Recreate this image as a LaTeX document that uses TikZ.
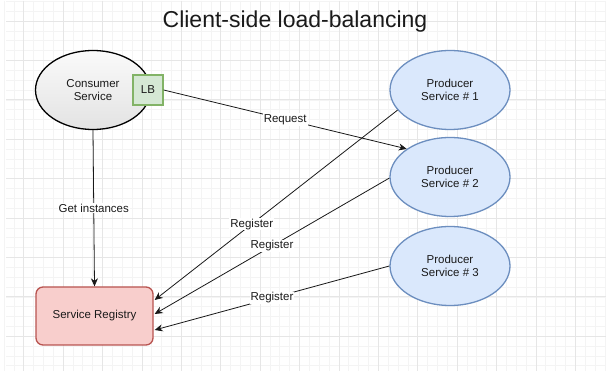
\documentclass[tikz,border=0pt]{standalone}
\usepackage{fontspec}
\setmainfont{Liberation Sans}
\usetikzlibrary{arrows.meta,shapes.geometric,calc}
\definecolor{bluefill}{HTML}{DAE8FC}
\definecolor{bluedraw}{HTML}{6C8EBF}
\definecolor{greenfill}{HTML}{D5E8D4}
\definecolor{greendraw}{HTML}{82B366}
\definecolor{redfill}{HTML}{F8CECC}
\definecolor{reddraw}{HTML}{B85450}
\definecolor{gridminor}{HTML}{F4F4F4}
\definecolor{gridmajor}{HTML}{E6E6E6}
\definecolor{txt}{HTML}{1A1A1A}
\tikzset{
  lbl/.style={font=\fontsize{11.5}{13.3}\selectfont, text=txt, align=center},
  producer/.style={ellipse, draw=bluedraw, fill=bluefill, line width=1.3pt,
    minimum width=120pt, minimum height=79pt, inner sep=1pt, lbl},
  consumer/.style={ellipse, draw=black, line width=1.3pt, top color=black!2,
    bottom color=black!11, minimum width=115pt, minimum height=79pt, inner sep=1pt, lbl},
  lbbox/.style={rectangle, draw=greendraw, fill=greenfill, line width=1.3pt,
    minimum width=30pt, minimum height=30pt, inner sep=0pt, lbl},
  registry/.style={rectangle, rounded corners=7pt, draw=reddraw, fill=redfill,
    line width=1.3pt, minimum width=117pt, minimum height=58pt, lbl},
  conn/.style={draw=black!90, line width=0.8pt, -{Stealth[length=8pt,width=7pt,inset=2.5pt]}},
  edgelbl/.style={fill=white, inner sep=1pt, lbl},
  titletext/.style={font=\fontsize{23}{26}\selectfont, text=txt}
}
\begin{document}
\begin{tikzpicture}[x=1pt,y=-1pt]
\useasboundingbox[fill=white] (0,0) rectangle (606,371);
% grid
\foreach \i in {0,...,61} {\draw[gridminor, line width=0.5pt] ({3.9+\i*9.85},1) -- ({3.9+\i*9.85},371);}
\foreach \j in {0,...,37} {\draw[gridminor, line width=0.5pt] (6,{1.3+\j*9.85}) -- (606,{1.3+\j*9.85});}
\foreach \i in {0,...,15} {\draw[gridmajor, line width=0.6pt] ({23.6+\i*39.4},1) -- ({23.6+\i*39.4},371);}
\foreach \j in {0,...,9} {\draw[gridmajor, line width=0.6pt] (6,{21+\j*39.4}) -- (606,{21+\j*39.4});}

\node[titletext] (title) at (295,22) {Client-side load-balancing};

\node[consumer] (cons) at (93,90) {Consumer\\Service};
\node[lbbox] (lb) at (148,90) {LB};
\node[producer] (p1) at (450,90) {Producer\\Service \# 1};
\node[producer] (p2) at (450,177) {Producer\\Service \# 2};
\node[producer] (p3) at (450,266) {Producer\\Service \# 3};
\node[registry] (sr) at (94.5,316) {Service Registry};

\coordinate (r1) at ($(sr.east)+(1,-16)$);
\coordinate (r2) at ($(sr.east)+(1,-2)$);
\coordinate (r3) at ($(sr.east)+(1,14)$);

\draw[conn] (cons.south) -- node[edgelbl] {Get instances} (sr.north);
\draw[conn] (lb.east) -- node[edgelbl] {Request} (p2.147);
\draw[conn] (p1.201) -- node[edgelbl, pos=0.6] {Register} (r1);
\draw[conn] (p2.181) -- node[edgelbl, pos=0.5] {Register} (r2);
\draw[conn] (p3.180) -- node[edgelbl, pos=0.5] {Register} (r3);
\end{tikzpicture}
\end{document}
